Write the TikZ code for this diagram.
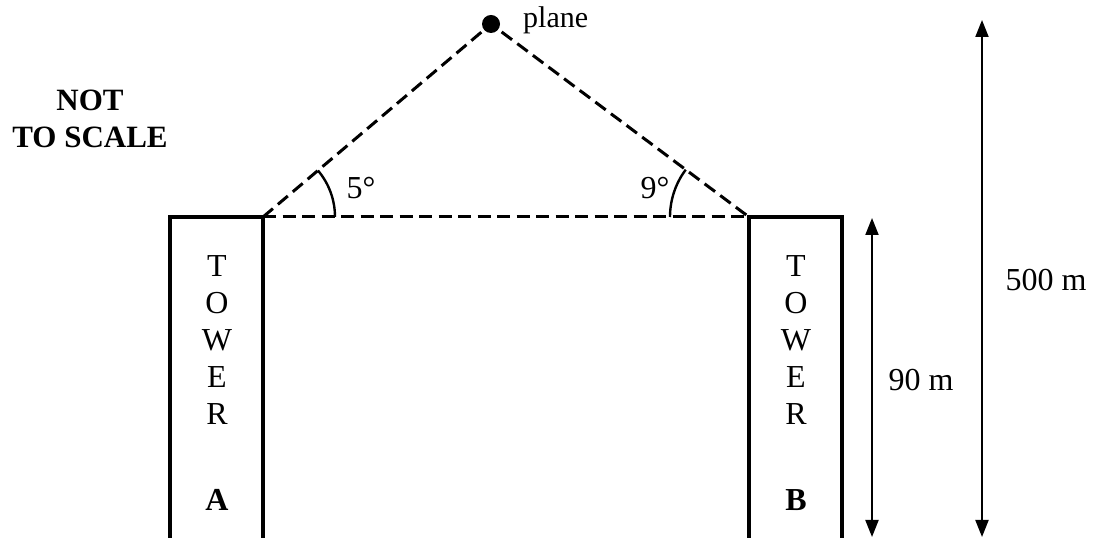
\documentclass[tikz,border=0pt]{standalone}
\usepackage{fontspec}
\setmainfont{Liberation Serif}
\usetikzlibrary{positioning,angles,arrows.meta}

\begin{document}
\begin{tikzpicture}[x=1pt, y=1pt,
	every node/.style={font=\fontsize{32}{38}\selectfont, inner sep=0pt},
	wall/.style={line width=3.4pt},
	sight/.style={line width=3pt, dash pattern=on 13pt off 6.5pt},
	dim/.style={line width=2pt, {Triangle[length=17pt,width=13pt]}-{Triangle[length=17pt,width=13pt]}}]
	\useasboundingbox (0,0) rectangle (1093,538);
	% towers
	\coordinate (A0) at (170,0); \coordinate (A1) at (170,321);
	\coordinate (A) at (263,321); \coordinate (A2) at (263,0);
	\coordinate (B0) at (749,0); \coordinate (B) at (749,321);
	\coordinate (B1) at (842,321); \coordinate (B2) at (842,0);
	\draw[wall] (A0) -- (A1) -- (A) -- (A2);
	\draw[wall] (B0) -- (B) -- (B1) -- (B2);
	\foreach \l [count=\i] in {T,O,W,E,R} {
		\node (ta\i) at (217, 309-37*\i) {\l};
		\node (tb\i) at (796, 309-37*\i) {\l};
	}
	\node[font=\fontsize{32}{38}\selectfont\bfseries] (nameA) at (217,38) {A};
	\node[font=\fontsize{32}{38}\selectfont\bfseries] (nameB) at (796,38) {B};
	% plane and lines of sight
	\node[circle, fill, minimum size=18pt] (P) at (491,514) {};
	\node[anchor=base west, font=\fontsize{30}{36}\selectfont] (plabel) at (523,510) {plane};
	\draw[sight] (A) -- (P.center) -- (B);
	\draw[sight] (A) -- (B);
	\pic[draw, line width=2.4pt, angle radius=72pt] {angle=B--A--P};
	\pic[draw, line width=2.4pt, angle radius=79pt] {angle=P--B--A};
	\node (a5) at (361,350) {5°};
	\node (a9) at (655,350) {9°};
	% heights
	\coordinate (h0) at (872,1); \coordinate (h1) at (872,320);
	\coordinate (k0) at (982,1); \coordinate (k1) at (982,518);
	\draw[dim] (h0) -- (h1);
	\draw[dim] (k0) -- (k1);
	\node (h) at (921,158) {90 m};
	\node (k) at (1046,258) {500 m};
	% note
	\node[font=\fontsize{31}{37}\selectfont\bfseries] (n1) at (90,438) {NOT};
	\node[font=\fontsize{31}{37}\selectfont\bfseries] (n2) at (90,401) {TO SCALE};
\end{tikzpicture}
\end{document}
